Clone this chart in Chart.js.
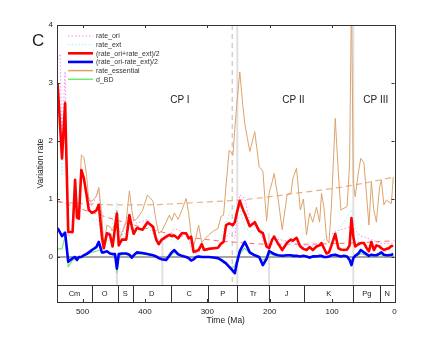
<!DOCTYPE html>
<html>
<head>
<meta charset="utf-8">
<script src="https://cdn.jsdelivr.net/npm/chart.js@4.4.1/dist/chart.umd.min.js"></script>
<style>
  html, body { margin: 0; padding: 0; background: #fff; }
</style>
</head>
<body>
<canvas id="rateChart" width="436" height="340"></canvas>
<script>
// time bins (Ma) for the main curves
const ages = [540,533,528,523,516,512,509,506,502,498,
  494,490,485,478,474,469,466,461,456,452,
  448,445,442,437,430,425,421,418,413,404,
  396,387,382,378,373,366,361,357,353,347,
  341,334,330,326,322,318,314,309,305,298,
  290,283,278,274,270,265,259,256,253,248,
  243,240,232,224,217,211,205,201,196,193,
  187,180,172,166,163,157,151,146,141,136,
  131,125,120,117,113,109,105,101,95,90,
  86,81,76,72,69,66,63,58,54,49,
  45,41,37,33,29,24,21,17,13,9,
  5,2];

// (rate_ori+rate_ext)/2
const meanRate = [3.0,1.7,2.65,0.43,0.43,1.33,0.68,0.66,1.5,1.36,
  1.1,0.81,0.76,0.8,0.9,0.35,0.15,0.41,0.38,0.18,
  0.5,0.75,0.2,0.3,0.3,0.72,0.52,0.4,0.5,0.47,
  0.6,0.52,0.3,0.22,0.3,0.35,0.38,0.36,0.37,0.32,
  0.41,0.41,0.32,0.35,0.09,0.1,0.12,0.22,0.12,0.14,
  0.15,0.16,0.23,0.26,0.55,0.58,0.55,0.6,0.75,0.97,
  0.82,0.75,0.53,0.6,0.45,0.41,0.18,0.15,0.3,0.35,
  0.24,0.12,0.25,0.3,0.28,0.33,0.18,0.14,0.12,0.17,
  0.12,0.18,0.2,0.24,0.15,0.06,0.08,0.2,0.4,0.15,
  0.13,0.12,0.13,0.2,0.67,0.35,0.18,0.22,0.24,0.24,
  0.16,0.1,0.26,0.12,0.2,0.18,0.15,0.12,0.14,0.15,
  0.19,0.19];

// (rate_ori-rate_ext)/2
const diffRate = [0.5,0.36,0.42,-0.08,-0.02,0.0,-0.05,0.0,0.0,0.03,
  0.05,0.08,0.12,0.17,0.26,0.08,0.08,0.1,0.06,0.05,
  0.05,-0.2,0.05,0.06,0.06,0.04,-0.01,0.03,0.08,0.07,
  0.05,0.03,0.01,-0.02,-0.04,-0.05,0.02,0.08,0.12,0.05,
  0.02,0.0,-0.02,-0.06,-0.04,0.0,0.01,0.0,0.0,0.0,
  -0.01,-0.02,-0.05,-0.08,-0.11,-0.17,-0.24,-0.28,-0.12,0.1,
  0.2,0.26,0.08,0.03,0.0,-0.14,-0.03,0.1,0.07,0.05,
  0.03,0.02,0.03,0.03,0.02,0.02,0.01,0.02,0.01,-0.01,
  0.01,0.01,0.02,0.02,0.0,0.0,0.01,0.03,0.04,0.02,
  0.01,0.02,0.01,-0.05,-0.14,-0.02,0.02,0.06,0.12,0.08,
  0.05,0.02,0.04,0.03,0.03,0.06,0.08,0.04,0.03,0.03,
  0.04,0.05];

// rate_essential
const essentialRate = [3.0,1.75,2.7,0.43,0.45,1.3,0.7,0.68,1.76,1.72,
  1.45,0.98,0.96,1.05,1.2,0.7,0.18,0.55,0.52,0.45,
  0.6,0.81,0.28,0.42,0.62,1.14,0.8,0.62,0.66,0.8,
  1.07,0.96,0.61,0.41,0.45,0.6,0.72,0.63,0.76,0.65,
  0.8,1.01,0.76,0.38,0.18,0.35,0.55,0.25,0.3,0.38,
  0.45,0.49,0.7,0.72,1.24,1.84,1.76,2.2,2.6,3.19,
  2.6,2.3,1.82,2.16,1.56,1.48,0.62,1.1,1.3,1.44,
  1.04,0.47,1.08,1.1,1.35,1.53,0.81,1.0,0.38,0.76,
  0.6,0.86,0.6,1.1,0.85,0.32,0.24,0.9,2.39,1.45,
  0.81,0.84,0.87,1.6,4.5,1.27,1.04,1.45,1.7,1.62,
  1.1,0.55,1.3,0.8,0.6,1.2,1.33,0.9,0.98,0.95,
  0.92,1.38];

// d_BD
const dBD = [0.14,0.14,0.36,-0.17,-0.05,-0.04,-0.07,-0.02,0.0,0.02,
  0.04,0.06,0.08,0.1,0.12,0.1,0.08,0.1,0.06,0.04,
  0.03,-0.28,0.0,0.04,0.05,0.03,-0.02,0.02,0.05,0.05,
  0.04,0.02,0.0,-0.02,-0.05,-0.04,0.0,0.04,0.08,0.03,
  0.01,-0.01,-0.02,-0.05,-0.04,0.0,0.01,0.01,0.0,0.0,
  -0.02,-0.03,-0.06,-0.1,-0.12,-0.16,-0.18,-0.15,-0.05,0.05,
  0.12,0.15,0.06,0.02,-0.01,-0.05,-0.02,0.05,0.04,0.03,
  0.02,0.01,0.02,0.02,0.01,0.01,0.0,0.01,0.0,-0.02,
  0.0,0.0,0.01,0.01,-0.01,0.0,0.0,0.02,0.03,0.01,
  0.0,0.01,0.0,-0.03,-0.08,-0.01,0.01,0.03,0.06,0.04,
  0.03,0.01,0.02,0.02,0.02,0.04,0.04,0.02,0.02,0.02,
  0.03,0.03];

// raw origination / extinction rates (dotted, mostly hidden)
const rawAges = [540,536,533,528,523,516,512,506,502,494,
  485,474,466,456,445,437,425,413,396,382,
  366,353,334,322,305,283,265,256,248,240,
  232,217,205,193,172,151,125,95,69,54,
  37,21,2];
const rateOri = [3.4,3.5,2.0,3.2,0.35,0.41,1.3,0.66,1.5,1.15,
  0.88,1.15,0.23,0.44,0.55,0.36,0.76,0.58,0.65,0.31,
  0.3,0.49,0.41,0.05,0.12,0.14,0.41,0.32,1.07,1.01,
  0.61,0.45,0.15,0.31,0.28,0.19,0.19,0.44,0.53,0.36,
  0.3,0.23,0.24];
const rateExt = [2.5,2.6,1.4,2.2,0.51,0.45,1.33,0.66,1.5,1.05,
  0.64,0.64,0.07,0.32,0.95,0.24,0.68,0.42,0.55,0.29,
  0.4,0.25,0.41,0.13,0.12,0.18,0.75,0.88,0.87,0.49,
  0.45,0.45,0.21,0.39,0.22,0.17,0.17,0.36,0.81,0.12,
  0.22,0.07,0.14];

// long-term trends (dashed)
const trendAges = [541,500,450,400,350,300,250,200,150,100,50,0];
const essentialTrend = [0.95,0.92,0.9,0.9,0.92,0.95,0.98,1.04,1.11,1.18,1.27,1.38];
const meanTrend = [0.97,0.82,0.65,0.5,0.38,0.3,0.25,0.22,0.22,0.23,0.25,0.28];

// geological periods
const periodNames = ['Cm','O','S','D','C','P','Tr','J','K','Pg','N'];
const periodStarts = [541,485,444,419,359,299,252,201,145,66,23];

// extinction marker lines
const eventAges = [445,372,260,252,201,66];
const eventTops = [0.0,0.3,4,4,0.41,4];
const eventDashed = [false,false,true,false,false,false];

// phase labels
const phaseLabels = ['CP I','CP II','CP III'];
const phaseAges = [344,162,30];
const phaseLevel = 2.7;

const xTickValues = [500,400,300,200,100,0];
const yTickValues = [0,1,2,3,4];
const stripTop = -0.48;

const FONT = "'Liberation Sans', Arial, Helvetica, sans-serif";
const pts = (xs, ys) => xs.map((a, i) => ({ x: a, y: ys[i] }));

const decor = {
  id: 'decor',
  beforeDatasetsDraw(chart) {
    const { ctx, chartArea: a, scales: { x, y } } = chart;
    ctx.save();
    eventAges.forEach((age, i) => {
      const px = x.getPixelForValue(age);
      ctx.beginPath();
      ctx.strokeStyle = eventDashed[i] ? '#cfcfcf' : '#e0e0e0';
      ctx.lineWidth = eventDashed[i] ? 1.5 : 2;
      ctx.setLineDash(eventDashed[i] ? [5, 4] : []);
      ctx.moveTo(px, y.getPixelForValue(eventTops[i]));
      ctx.lineTo(px, y.getPixelForValue(stripTop));
      ctx.stroke();
    });
    ctx.setLineDash([]);
    const y0 = y.getPixelForValue(0);
    ctx.strokeStyle = '#888';
    ctx.lineWidth = 1.3;
    ctx.beginPath();
    ctx.moveTo(a.left, y0);
    ctx.lineTo(a.right, y0);
    ctx.stroke();
    ctx.restore();
  },
  afterDatasetsDraw(chart) {
    const { ctx, chartArea: a, scales: { x, y } } = chart;
    ctx.save();
    ctx.fillStyle = '#222';
    ctx.strokeStyle = '#333';
    ctx.lineWidth = 1;

    // period strip
    const sTop = Math.round(y.getPixelForValue(stripTop)) + 0.5;
    ctx.beginPath();
    ctx.moveTo(a.left, sTop);
    ctx.lineTo(a.right, sTop);
    periodStarts.forEach((start, i) => {
      if (i === 0) return;
      const px = Math.round(x.getPixelForValue(start)) + 0.5;
      ctx.moveTo(px, sTop);
      ctx.lineTo(px, a.bottom);
    });
    ctx.stroke();
    ctx.font = '7.5px ' + FONT;
    ctx.textAlign = 'center';
    ctx.textBaseline = 'middle';
    periodNames.forEach((name, i) => {
      const end = i + 1 < periodStarts.length ? periodStarts[i + 1] : 0;
      const px = x.getPixelForValue((periodStarts[i] + end) / 2);
      ctx.fillText(name, px, (sTop + a.bottom) / 2 + 0.5);
    });

    // frame
    ctx.strokeRect(Math.round(a.left) + 0.5, Math.round(a.top) + 0.5,
      Math.round(a.right - a.left), Math.round(a.bottom - a.top));

    // inward ticks
    ctx.beginPath();
    xTickValues.forEach(v => {
      const px = Math.round(x.getPixelForValue(v)) + 0.5;
      ctx.moveTo(px, a.bottom); ctx.lineTo(px, a.bottom - 3);
      ctx.moveTo(px, a.top); ctx.lineTo(px, a.top + 3);
    });
    yTickValues.forEach(v => {
      const py = Math.round(y.getPixelForValue(v)) + 0.5;
      ctx.moveTo(a.left, py); ctx.lineTo(a.left + 3, py);
      ctx.moveTo(a.right, py); ctx.lineTo(a.right - 3, py);
    });
    ctx.stroke();

    // phase labels
    ctx.font = '10px ' + FONT;
    phaseLabels.forEach((t, i) => {
      ctx.fillText(t, x.getPixelForValue(phaseAges[i]), y.getPixelForValue(phaseLevel));
    });

    // axis titles
    ctx.font = '8.5px ' + FONT;
    ctx.fillText('Time (Ma)', (a.left + a.right) / 2, 321);
    ctx.save();
    ctx.translate(41, (a.top + a.bottom) / 2);
    ctx.rotate(-Math.PI / 2);
    ctx.fillText('Variation rate', 0, 0);
    ctx.restore();

    // panel letter
    ctx.font = '17px ' + FONT;
    ctx.textAlign = 'left';
    ctx.fillText('C', 32, 41);

    // legend
    ctx.font = '7px ' + FONT;
    ctx.fillStyle = '#333';
    let row = 0;
    chart.data.datasets.forEach(ds => {
      if (!ds.inLegend) return;
      const ly = 36 + row * 8.65;
      ctx.beginPath();
      ctx.strokeStyle = ds.borderColor;
      ctx.lineWidth = ds.legendWidth || ds.borderWidth;
      ctx.setLineDash(ds.borderDash || []);
      ctx.moveTo(68, ly);
      ctx.lineTo(93, ly);
      ctx.stroke();
      ctx.setLineDash([]);
      ctx.fillText(ds.label, 96, ly + 0.5);
      row++;
    });
    ctx.restore();
  }
};

const ctx = document.getElementById('rateChart').getContext('2d');
const chart = new Chart(ctx, {
  type: 'line',
  data: {
    datasets: [
      { label: 'rate_ori', data: pts(rawAges, rateOri), borderColor: '#f58ef5',
        borderWidth: 1, borderDash: [1.5, 2], order: 9, inLegend: true },
      { label: 'rate_ext', data: pts(rawAges, rateExt), borderColor: '#9ff5f5',
        borderWidth: 1, borderDash: [1.5, 2], order: 8, inLegend: true },
      { label: '(rate_ori+rate_ext)/2', data: pts(ages, meanRate), borderColor: '#ff0000',
        borderWidth: 2.6, order: 5, inLegend: true },
      { label: '(rate_ori-rate_ext)/2', data: pts(ages, diffRate), borderColor: '#0000ff',
        borderWidth: 2.6, order: 4, inLegend: true },
      { label: 'rate_essential', data: pts(ages, essentialRate), borderColor: '#dda36c',
        borderWidth: 1, legendWidth: 1.5, order: 7, inLegend: true },
      { label: 'd_BD', data: pts(ages, dBD), borderColor: '#74e874',
        borderWidth: 1.2, legendWidth: 1.5, order: 10, inLegend: true },
      { label: 'essential trend', data: pts(trendAges, essentialTrend), borderColor: '#e6b48a',
        borderWidth: 1.2, borderDash: [6, 4], cubicInterpolationMode: 'monotone', order: 12 },
      { label: 'mean trend', data: pts(trendAges, meanTrend), borderColor: '#ff6b6b',
        borderWidth: 1, borderDash: [5, 4], cubicInterpolationMode: 'monotone', order: 11 }
    ]
  },
  options: {
    responsive: false,
    animation: false,
    events: [],
    layout: { padding: { top: 25, right: 41.5, left: 0, bottom: 0 } },
    elements: {
      point: { radius: 0 },
      line: { tension: 0, borderJoinStyle: 'round', fill: false }
    },
    plugins: { legend: { display: false }, tooltip: { enabled: false } },
    scales: {
      x: {
        type: 'linear', reverse: true, min: 0, max: 541,
        grid: { display: false, drawTicks: false },
        border: { display: false },
        ticks: { font: { family: FONT, size: 8 }, color: '#222', padding: 5, maxRotation: 0 },
        afterBuildTicks: s => { s.ticks = xTickValues.map(v => ({ value: v })); },
        afterFit: s => { s.height = 38; }
      },
      y: {
        min: -0.776, max: 4,
        grid: { display: false, drawTicks: false },
        border: { display: false },
        ticks: { font: { family: FONT, size: 8 }, color: '#222', padding: 4 },
        afterBuildTicks: s => { s.ticks = yTickValues.map(v => ({ value: v })); },
        afterFit: s => { s.width = 57; }
      }
    }
  },
  plugins: [decor]
});
</script>
</body>
</html>
